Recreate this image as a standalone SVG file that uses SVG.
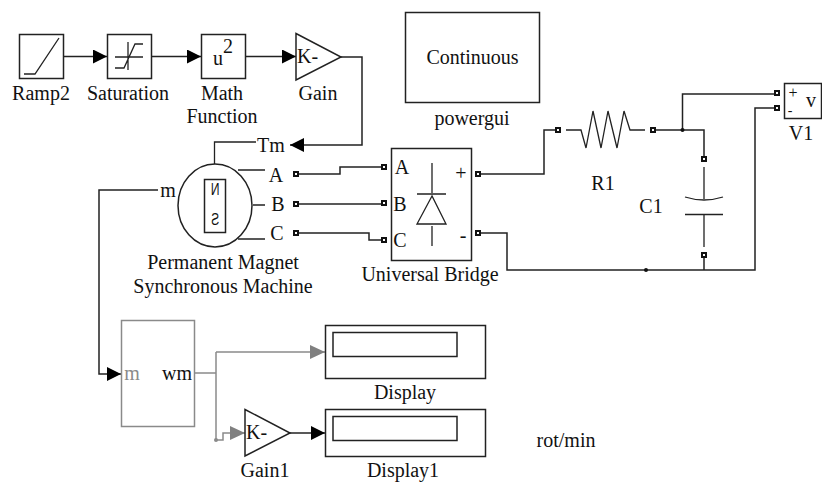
<svg xmlns="http://www.w3.org/2000/svg" width="822" height="482" viewBox="0 0 822 482">
<defs>
<marker id="arr" markerUnits="userSpaceOnUse" markerWidth="14" markerHeight="14" refX="14" refY="7" orient="auto"><path d="M0,0 L14,7 L0,14 Z" fill="#000"/></marker>
<marker id="arrg" markerUnits="userSpaceOnUse" markerWidth="15" markerHeight="14" refX="15" refY="7" orient="auto"><path d="M0,0 L15,7 L0,14 Z" fill="#808080"/></marker>
</defs>
<style>
text{font-family:"Liberation Serif","Times New Roman",serif;font-size:20px;fill:#111;text-anchor:middle}
.b{fill:#fff;stroke:#222;stroke-width:1.5}
.i{fill:none;stroke:#222;stroke-width:1.3}
.w{fill:none;stroke:#222;stroke-width:1.5}
.g{fill:none;stroke:#8a8a8a;stroke-width:1.5}
.p{fill:#fff;stroke:#111;stroke-width:2}
.k{text-anchor:start}
.t{font-size:16px;font-family:"Liberation Sans",Arial,sans-serif}
.sm{font-size:14px}
.md{font-size:16px}
</style>
<rect width="822" height="482" fill="#fff"/>
<g id="connectors">
<path class="w" d="M63,56.5H107" marker-end="url(#arr)"/>
<path class="w" d="M151,56.5H201" marker-end="url(#arr)"/>
<path class="w" d="M245,56.5H296" marker-end="url(#arr)"/>
<path class="w" d="M341,57H362V145H290" marker-end="url(#arr)"/>
<path class="w" d="M296,174H340V167H384"/>
<path class="w" d="M296,204H384"/>
<path class="w" d="M296,233H369V240H384"/>
<path class="w" d="M478,174H544V130H558"/>
<path class="w" d="M478,233H507V270H755V108H776"/>
<path class="w" d="M652,130H704V159"/>
<path class="w" d="M682.5,130V94H776"/>
<path class="w" d="M704,255V270"/>
<path class="w" d="M158,190H99V374H121" marker-end="url(#arr)"/>
<path class="g" d="M195,373H216"/>
<path class="g" d="M216,352H325" marker-end="url(#arrg)"/>
<path class="g" d="M216,352V440H223V433H245" marker-end="url(#arrg)"/>
<path class="w" d="M290,433H325" marker-end="url(#arr)"/>
<circle cx="682.5" cy="130" r="2" fill="#111"/>
<circle cx="646" cy="270" r="2" fill="#111"/>
<circle cx="216" cy="440" r="2" fill="#8a8a8a"/>
</g>
<g id="ramp2"><rect class="b" x="19.500" y="34.500" width="44" height="44"/><path class="i" d="M24,74H35L59,38"/><text x="41" y="100">Ramp2</text></g>
<g id="saturation"><rect class="b" x="107.500" y="34.500" width="44" height="44"/><path class="i" d="M115,57H143M128,42V70M115,68H124L135,44H143"/><text x="128" y="100">Saturation</text></g>
<g id="math-function"><rect class="b" x="201.500" y="34.500" width="44" height="44"/><text x="218" y="65">u</text><text x="228" y="53">2</text><text x="222" y="100">Math</text><text x="222" y="123">Function</text></g>
<g id="gain"><path class="b" d="M296,33.500L341,57L296,80Z"/><text class="k" x="297" y="63">K-</text><text x="318" y="100">Gain</text></g>
<g id="powergui"><rect class="b" x="405.500" y="12.500" width="134" height="90"/><text x="472.500" y="64">Continuous</text><text x="472" y="125">powergui</text></g>
<g id="pmsm"><ellipse class="b" cx="215" cy="205.500" rx="37" ry="41.500"/><rect class="b" x="204.500" y="179.500" width="21" height="53"/><path class="i" d="M238,170H265M253,205H265M238,239H265M214.500,164V142H256"/>
<text class="t" x="-287" y="195" transform="scale(-0.75 1)">N</text>
<text class="t" x="-287" y="225" transform="scale(-0.75 1)">S</text>
<text x="271" y="152">Tm</text><text x="276" y="182">A</text><text x="278" y="211">B</text><text x="277" y="240">C</text><text x="168" y="197">m</text>
<rect class="p" x="294" y="172" width="4" height="4"/><rect class="p" x="294" y="202" width="4" height="4"/><rect class="p" x="294" y="231" width="4" height="4"/>
<text x="223" y="269">Permanent Magnet</text><text x="223" y="293">Synchronous Machine</text></g>
<g id="universal-bridge"><rect class="b" x="391.500" y="148.500" width="80" height="112"/><path class="i" d="M432,163V193M417,194H446M432,196L417,224H446ZM432,226V246"/>
<text x="402" y="174">A</text><text x="400" y="211">B</text><text x="400" y="247">C</text><text x="461" y="180">+</text><text x="463" y="242">-</text>
<rect class="p" x="382" y="165" width="4" height="4"/><rect class="p" x="382" y="201" width="4" height="4"/><rect class="p" x="382" y="238" width="4" height="4"/><rect class="p" x="476" y="172" width="4" height="4"/><rect class="p" x="476" y="231" width="4" height="4"/>
<text x="430" y="281">Universal Bridge</text></g>
<g id="r1"><path class="i" d="M566,130H581L586,148L593,111L601,148L608,111L617,148L624,111L630,130H645"/><rect class="p" x="556" y="128" width="4" height="4"/><rect class="p" x="651" y="128" width="4" height="4"/><text x="603" y="190">R1</text></g>
<g id="c1"><path class="i" d="M704,167V199M685,197Q704,203 723,197M685,214.500H723M704,215V247"/><rect class="p" x="702" y="157" width="4" height="4"/><rect class="p" x="702" y="253" width="4" height="4"/><text x="651" y="213">C1</text></g>
<g id="v1"><rect class="b" x="784.500" y="83.500" width="37" height="35"/><text class="md" x="793" y="98">+</text><text class="sm" x="790" y="115">-</text><text x="811" y="107">v</text><rect class="p" x="775" y="91" width="4" height="4"/><rect class="p" x="775" y="106" width="4" height="4"/><text x="801" y="140">V1</text></g>
<g id="subsystem"><rect x="121.500" y="320.500" width="73" height="106" fill="#fff" stroke="#8a8a8a" stroke-width="1.500"/><text x="132" y="380" style="fill:#8a8a8a">m</text><text x="177" y="380">wm</text></g>
<g id="display"><rect class="b" x="325.500" y="325.500" width="160" height="53"/><rect class="b" x="333" y="332.500" width="124" height="24"/><text x="405" y="399">Display</text></g>
<g id="gain1"><path class="b" d="M245,409.500L290,433L245,456Z"/><text class="k" x="246" y="439">K-</text><text x="265" y="477">Gain1</text></g>
<g id="display1"><rect class="b" x="325.500" y="409.500" width="160" height="47"/><rect class="b" x="333" y="416.500" width="124" height="24"/><text x="403" y="477">Display1</text></g>
<text x="566" y="447">rot/min</text>
</svg>
